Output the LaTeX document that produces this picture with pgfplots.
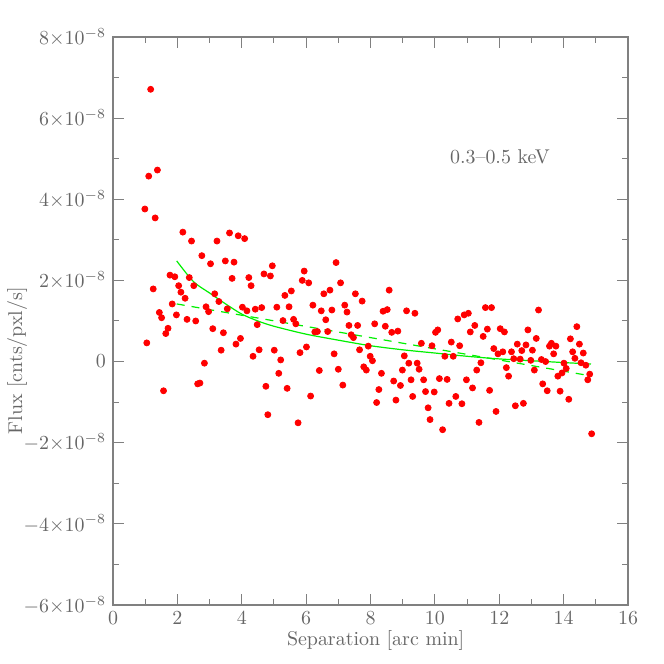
\documentclass[border=0pt]{standalone}
\usepackage{pgfplots}
\pgfplotsset{compat=1.18}
\definecolor{axgray}{gray}{0.5}
\definecolor{txtgray}{gray}{0.4}
\definecolor{ptred}{RGB}{255,0,0}
\definecolor{fitgreen}{RGB}{0,240,0}

\begin{document}
\begin{tikzpicture}
\begin{axis}[
  scale only axis, width=257.5bp, height=284bp,
  xmin=0, xmax=16, ymin=-6e-8, ymax=8e-8,
  xtick={0,2,4,6,8,10,12,14,16}, minor x tick num=1,
  ytick={-6e-8,-4e-8,-2e-8,0,2e-8,4e-8,6e-8,8e-8}, minor y tick num=1,
  scaled y ticks=false,
  yticklabels={$-6{\times}10^{-8}$,$-4{\times}10^{-8}$,$-2{\times}10^{-8}$,$0$,
               $2{\times}10^{-8}$,$4{\times}10^{-8}$,$6{\times}10^{-8}$,$8{\times}10^{-8}$},
  tick align=inside, major tick length=5.5bp, minor tick length=3bp,
  axis line style={axgray, line width=0.7bp},
  every tick/.style={axgray, line width=0.5bp},
  tick label style={text=txtgray},
  label style={text=txtgray},
  font=\fontsize{10}{12}\selectfont,
  xlabel={Separation [arc min]},
  ylabel={Flux [cnts/pxl/s]},
  xlabel style={at={(rel axis cs:0.51,-0.062)}, anchor=center},
  ylabel style={at={(rel axis cs:-0.186,0.43)}, anchor=center},
]
\coordinate (bbsw) at (rel axis cs:-0.2194,-0.1039);
\coordinate (bbne) at (rel axis cs:1.0699,1.0651);

\addplot[only marks, mark=*, mark size=1.5bp, mark options={draw=ptred, fill=ptred}]
  coordinates {
  (0.99,3.76e-8) (1.05,0.46e-8) (1.11,4.57e-8) (1.17,6.71e-8) (1.25,1.79e-8)
  (1.31,3.54e-8) (1.38,4.72e-8) (1.44,1.21e-8) (1.51,1.08e-8) (1.57,-0.72e-8)
  (1.64,0.69e-8) (1.71,0.82e-8) (1.77,2.13e-8) (1.84,1.42e-8) (1.92,2.09e-8)
  (1.97,1.15e-8) (2.04,1.87e-8) (2.11,1.71e-8) (2.17,3.19e-8) (2.24,1.56e-8)
  (2.30,1.04e-8) (2.37,2.07e-8) (2.44,2.97e-8) (2.51,1.87e-8) (2.57,1.00e-8)
  (2.63,-0.55e-8) (2.70,-0.53e-8) (2.76,2.61e-8) (2.84,-0.04e-8) (2.89,1.35e-8)
  (2.97,1.23e-8) (3.03,2.41e-8) (3.10,0.81e-8) (3.16,1.67e-8) (3.23,2.97e-8)
  (3.29,1.48e-8) (3.36,0.28e-8) (3.43,0.71e-8) (3.49,2.48e-8) (3.55,1.30e-8)
  (3.62,3.17e-8) (3.70,2.05e-8) (3.76,2.45e-8) (3.82,0.43e-8) (3.89,3.10e-8)
  (3.96,0.57e-8) (4.02,1.34e-8) (4.09,3.03e-8) (4.16,1.25e-8) (4.22,2.07e-8)
  (4.29,1.87e-8) (4.35,0.13e-8) (4.42,1.29e-8) (4.48,0.91e-8) (4.54,0.29e-8)
  (4.62,1.33e-8) (4.69,2.16e-8) (4.75,-0.61e-8) (4.81,-1.31e-8) (4.89,2.11e-8)
  (4.95,2.36e-8) (5.01,0.28e-8) (5.09,1.34e-8) (5.15,-0.29e-8) (5.21,0.04e-8)
  (5.28,1.01e-8) (5.34,1.63e-8) (5.41,-0.66e-8) (5.47,1.35e-8) (5.54,1.74e-8)
  (5.61,1.04e-8) (5.68,0.93e-8) (5.75,-1.51e-8) (5.81,0.22e-8) (5.88,2.00e-8)
  (5.94,2.23e-8) (6.01,0.36e-8) (6.08,1.94e-8) (6.14,-0.85e-8) (6.21,1.39e-8)
  (6.27,0.73e-8) (6.35,0.74e-8) (6.41,-0.22e-8) (6.47,1.25e-8) (6.55,1.67e-8)
  (6.61,1.03e-8) (6.67,0.74e-8) (6.74,1.76e-8) (6.80,1.27e-8) (6.87,0.19e-8)
  (6.93,2.44e-8) (7.00,-0.19e-8) (7.07,1.94e-8) (7.14,-0.58e-8) (7.20,1.39e-8)
  (7.27,1.22e-8) (7.33,0.89e-8) (7.40,0.66e-8) (7.47,0.59e-8) (7.53,1.67e-8)
  (7.60,0.89e-8) (7.66,0.29e-8) (7.74,1.49e-8) (7.79,-0.13e-8) (7.87,-0.21e-8)
  (7.93,0.38e-8) (7.99,0.13e-8) (8.06,0.02e-8) (8.13,0.93e-8) (8.19,-1.01e-8)
  (8.26,-0.69e-8) (8.34,-0.29e-8) (8.39,1.24e-8) (8.46,0.87e-8) (8.52,1.28e-8)
  (8.58,1.76e-8) (8.66,0.72e-8) (8.72,-0.48e-8) (8.79,-0.95e-8) (8.85,0.75e-8)
  (8.93,-0.59e-8) (8.99,-0.21e-8) (9.05,0.14e-8) (9.12,1.25e-8) (9.19,-0.04e-8)
  (9.26,-0.45e-8) (9.31,-0.86e-8) (9.38,1.19e-8) (9.45,-0.04e-8) (9.51,-0.19e-8)
  (9.58,0.45e-8) (9.65,-0.45e-8) (9.71,-0.74e-8) (9.79,-1.14e-8) (9.85,-1.43e-8)
  (9.91,0.39e-8) (9.98,-0.75e-8) (10.02,0.72e-8) (10.09,0.78e-8) (10.14,-0.42e-8)
  (10.24,-1.68e-8) (10.31,0.13e-8) (10.38,-0.44e-8) (10.44,-1.03e-8) (10.51,0.48e-8)
  (10.57,0.13e-8) (10.65,-0.86e-8) (10.71,1.05e-8) (10.77,0.39e-8) (10.84,-1.04e-8)
  (10.91,1.15e-8) (10.98,-0.45e-8) (11.04,1.19e-8) (11.10,0.73e-8) (11.17,-0.65e-8)
  (11.24,0.89e-8) (11.30,-0.21e-8) (11.37,-1.50e-8) (11.43,-0.03e-8) (11.50,0.62e-8)
  (11.57,1.33e-8) (11.63,0.80e-8) (11.70,-0.71e-8) (11.76,1.33e-8) (11.83,0.32e-8)
  (11.90,-1.23e-8) (11.96,0.19e-8) (12.03,0.81e-8) (12.11,0.24e-8) (12.16,0.73e-8)
  (12.22,-0.15e-8) (12.29,-0.36e-8) (12.38,0.24e-8) (12.45,0.07e-8) (12.50,-1.09e-8)
  (12.56,0.43e-8) (12.65,0.06e-8) (12.70,0.27e-8) (12.75,-1.03e-8) (12.83,0.41e-8)
  (12.89,0.78e-8) (12.98,0.03e-8) (13.03,0.28e-8) (13.09,-0.21e-8) (13.15,0.57e-8)
  (13.22,1.27e-8) (13.31,0.05e-8) (13.35,-0.55e-8) (13.44,0.00e-8) (13.49,-0.72e-8)
  (13.56,0.38e-8) (13.62,0.45e-8) (13.69,0.19e-8) (13.76,0.38e-8) (13.82,-0.36e-8)
  (13.89,-0.73e-8) (13.95,-0.28e-8) (14.01,-0.04e-8) (14.08,-0.17e-8) (14.16,-0.93e-8)
  (14.21,0.56e-8) (14.28,0.24e-8) (14.35,0.08e-8) (14.41,0.86e-8) (14.49,0.43e-8)
  (14.54,-0.03e-8) (14.61,0.21e-8) (14.69,-0.09e-8) (14.75,-0.45e-8) (14.81,-0.31e-8)
  (14.87,-1.78e-8)
  };

% solid fit
\addplot[fitgreen, line width=0.6bp, smooth] coordinates {
  (1.98,2.48e-8) (2.5,1.97e-8) (3.0,1.69e-8) (3.5,1.42e-8) (4.0,1.17e-8)
  (4.5,1.00e-8) (5.0,0.87e-8) (6.0,0.675e-8) (7.0,0.527e-8) (8.0,0.39e-8)
  (9.0,0.29e-8) (10.0,0.21e-8) (11.0,0.13e-8) (12.0,0.065e-8) (13.0,0.02e-8)
  (14.0,-0.025e-8) (14.85,-0.06e-8)
};
% dashed fit
\addplot[fitgreen, line width=0.6bp, dash pattern=on 4bp off 3.5bp] coordinates {
  (1.98,1.42e-8) (14.82,-0.35e-8)
};

\node[text=txtgray] at (axis cs:12.02,5.04e-8) {0.3--0.5 keV};
\end{axis}
\path (bbsw) rectangle (bbne);
\end{tikzpicture}
\end{document}
